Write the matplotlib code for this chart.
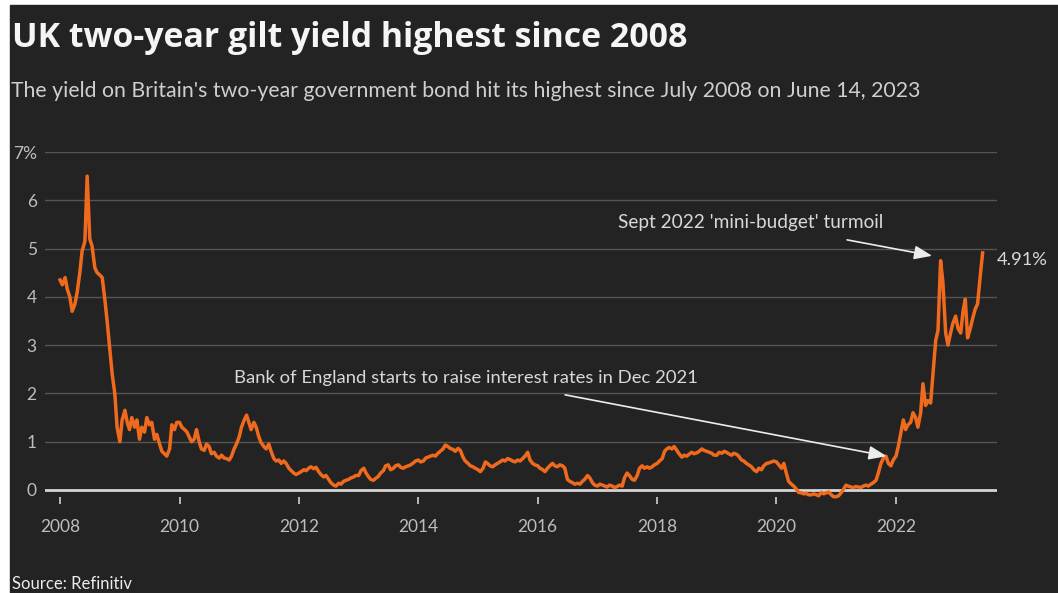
import pandas as pd
import numpy as np
import matplotlib.pyplot as plt
from matplotlib.patches import Rectangle

# semi-monthly readings of the UK 2-year gilt yield (%), 1st and 15th of each month
y2008 = [4.35, 4.25, 4.4, 4.15, 4.0, 3.7, 3.85, 4.1, 4.5, 4.95, 5.15, 6.5,
         5.2, 5.05, 4.6, 4.5, 4.45, 4.4, 3.95, 3.5, 2.9, 2.4, 2.0, 1.3]
y2009 = [1.0, 1.45, 1.65, 1.4, 1.25, 1.5, 1.3, 1.45, 1.05, 1.3, 1.2, 1.5,
         1.35, 1.4, 1.05, 1.15, 0.95, 0.8, 0.75, 0.7, 0.85, 1.35, 1.25, 1.4]
y2010 = [1.4, 1.3, 1.25, 1.2, 1.1, 1.0, 1.05, 1.25, 1.0, 0.85, 0.82, 0.95,
         0.9, 0.75, 0.78, 0.7, 0.66, 0.72, 0.66, 0.65, 0.62, 0.7, 0.85, 0.95]
y2011 = [1.1, 1.3, 1.45, 1.55, 1.4, 1.25, 1.4, 1.3, 1.1, 0.98, 0.9, 0.85,
         0.95, 0.8, 0.65, 0.6, 0.62, 0.55, 0.6, 0.55, 0.45, 0.4, 0.35, 0.32]
y2012 = [0.35, 0.38, 0.42, 0.4, 0.45, 0.48, 0.44, 0.47, 0.38, 0.32, 0.27, 0.3,
         0.22, 0.15, 0.1, 0.08, 0.14, 0.12, 0.18, 0.2, 0.22, 0.25, 0.27, 0.3]
y2013 = [0.3, 0.4, 0.45, 0.35, 0.28, 0.22, 0.2, 0.24, 0.28, 0.35, 0.4, 0.5,
         0.52, 0.42, 0.45, 0.5, 0.52, 0.47, 0.45, 0.48, 0.5, 0.52, 0.56, 0.6]
y2014 = [0.62, 0.58, 0.6, 0.66, 0.68, 0.7, 0.72, 0.7, 0.76, 0.8, 0.85, 0.93,
         0.9, 0.86, 0.84, 0.8, 0.86, 0.82, 0.68, 0.6, 0.55, 0.5, 0.48, 0.45]
y2015 = [0.42, 0.38, 0.45, 0.58, 0.55, 0.5, 0.48, 0.52, 0.55, 0.58, 0.62, 0.6,
         0.65, 0.63, 0.6, 0.58, 0.62, 0.6, 0.65, 0.7, 0.78, 0.62, 0.55, 0.52]
y2016 = [0.5, 0.45, 0.42, 0.38, 0.45, 0.5, 0.55, 0.5, 0.48, 0.52, 0.5, 0.45,
         0.22, 0.18, 0.15, 0.12, 0.14, 0.12, 0.18, 0.22, 0.3, 0.25, 0.15, 0.1]
y2017 = [0.08, 0.12, 0.1, 0.08, 0.06, 0.1, 0.08, 0.05, 0.07, 0.1, 0.08, 0.25,
         0.35, 0.3, 0.22, 0.2, 0.3, 0.45, 0.5, 0.45, 0.48, 0.45, 0.48, 0.52]
y2018 = [0.55, 0.6, 0.65, 0.8, 0.85, 0.88, 0.85, 0.9, 0.82, 0.75, 0.68, 0.72,
         0.7, 0.74, 0.78, 0.75, 0.77, 0.8, 0.85, 0.82, 0.8, 0.78, 0.76, 0.72]
y2019 = [0.72, 0.78, 0.76, 0.8, 0.78, 0.75, 0.72, 0.76, 0.74, 0.7, 0.62, 0.6,
         0.55, 0.52, 0.48, 0.42, 0.38, 0.45, 0.42, 0.5, 0.55, 0.56, 0.58, 0.6]
y2020 = [0.58, 0.52, 0.45, 0.55, 0.35, 0.18, 0.12, 0.08, 0.02, -0.05, -0.06, -0.08,
         -0.07, -0.1, -0.1, -0.08, -0.1, -0.12, -0.05, -0.08, -0.06, -0.04, -0.1, -0.14]
y2021 = [-0.14, -0.12, -0.05, 0.02, 0.1, 0.08, 0.06, 0.05, 0.07, 0.06, 0.05, 0.08,
         0.1, 0.08, 0.12, 0.15, 0.2, 0.35, 0.55, 0.65, 0.7, 0.55, 0.5, 0.62]
y2022 = [0.7, 0.9, 1.2, 1.45, 1.25, 1.35, 1.4, 1.6, 1.5, 1.3, 1.6, 2.2,
         1.75, 1.85, 1.8, 2.4, 3.1, 3.3, 4.75, 4.3, 3.25, 3.0, 3.25, 3.45]
y2023 = [3.6, 3.35, 3.25, 3.7, 3.95, 3.15, 3.35, 3.55, 3.75, 3.85, 4.45, 4.91]

yields = (y2008 + y2009 + y2010 + y2011 + y2012 + y2013 + y2014 + y2015 + y2016
          + y2017 + y2018 + y2019 + y2020 + y2021 + y2022 + y2023)
dates = pd.date_range('2008-01-01', '2023-06-15', freq='SMS')

year_ticks = [2008, 2010, 2012, 2014, 2016, 2018, 2020, 2022]
y_ticks = [0, 1, 2, 3, 4, 5, 6, 7]
y_labels = ['0', '1', '2', '3', '4', '5', '6', '7%']

bg = '#232323'
orange = '#f06a1e'
plt.rcParams['font.family'] = ['Lato', 'DejaVu Sans']

W, H = 1058, 593
fig = plt.figure(figsize=(W / 100, H / 100), dpi=100, facecolor='white')
fig.patches.append(Rectangle((10 / W, 0), 1, 1 - 5 / H, transform=fig.transFigure,
                             color=bg, zorder=-10))
renderer = fig.canvas.get_renderer()


def fit(t, width_px):
    # scale the font so the text spans the width measured on the reference
    w = t.get_window_extent(renderer).width
    t.set_fontsize(t.get_fontsize() * width_px / w)


# axes: left 45px, right 997px, y=7 at 152px, y=-0.15 at 497px
ax = fig.add_axes([45 / W, 1 - 497.2 / H, 952 / W, 345.2 / H])
ax.set_facecolor('none')
ax.set_xlim(pd.Timestamp('2007-10-01'), pd.Timestamp('2023-09-11'))
ax.set_ylim(-0.15, 7)

for s in ax.spines.values():
    s.set_visible(False)

ax.set_yticks(y_ticks)
ax.set_yticklabels(y_labels)
ax.grid(axis='y', color='#555555', lw=1)
ax.set_axisbelow(True)
ax.axhline(0, color='#d4d4d4', lw=2, zorder=2)
ax.tick_params(axis='y', length=0, pad=6, labelsize=12.5, labelcolor='#bdbdbd')

ax.set_xticks([pd.Timestamp(f'{y}-01-01') for y in year_ticks])
ax.set_xticklabels([str(y) for y in year_ticks])
ax.tick_params(axis='x', direction='out', length=5, width=1.2, color='#cfcfcf',
               pad=11, labelsize=12.5, labelcolor='#bdbdbd')

ax.plot(dates, yields, color=orange, lw=2.5, clip_on=False, zorder=3)

# annotations
txt = '#d8d8d8'
arrow = dict(arrowstyle='-|>,head_length=0.9,head_width=0.35', mutation_scale=12,
             color='#ececec', lw=1.2, shrinkA=0, shrinkB=0)
t1 = ax.text(pd.Timestamp('2014-10-19'), 2.32,
             'Bank of England starts to raise interest rates in Dec 2021',
             ha='center', va='center', color=txt, fontsize=13)
fit(t1, 462)
ax.annotate('', xy=(pd.Timestamp('2021-11-05'), 0.70),
            xytext=(pd.Timestamp('2016-06-17'), 1.97), arrowprops=arrow)
t2 = ax.text(pd.Timestamp('2019-07-29'), 5.55, "Sept 2022 'mini-budget' turmoil",
             ha='center', va='center', color=txt, fontsize=13)
fit(t2, 264)
ax.annotate('', xy=(pd.Timestamp('2022-08-10'), 4.85),
            xytext=(pd.Timestamp('2021-03-08'), 5.18), arrowprops=arrow)
ax.annotate('4.91%', xy=(dates[-1], yields[-1]), xytext=(14, -7),
            textcoords='offset pixels', ha='left', va='center',
            color=txt, fontsize=13.2)

# titles and source
title = fig.text(12 / W, 1 - 47 / H, 'UK two-year gilt yield highest since 2008',
                 color='#f5f5f5', fontsize=20, fontweight='bold', va='baseline',
                 family=['Open Sans', 'DejaVu Sans'])
fit(title, 678)
sub = fig.text(11 / W, 1 - 97 / H,
               "The yield on Britain's two-year government bond hit its highest since July 2008 on June 14, 2023",
               color='#cfcfcf', fontsize=15, va='baseline')
fit(sub, 909)
src = fig.text(12 / W, 1 - 589 / H, 'Source: Refinitiv', color='#ececec', fontsize=12,
               va='baseline')
fit(src, 120)

fig.savefig('out.png', dpi=100, facecolor=fig.get_facecolor())
